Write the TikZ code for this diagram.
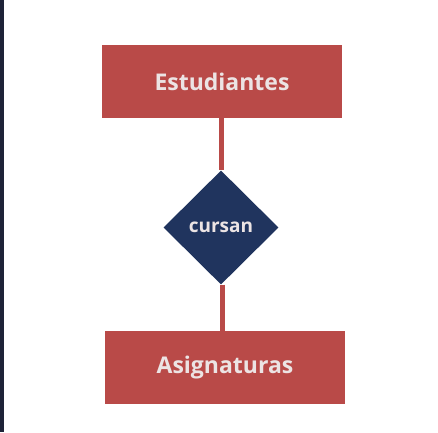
\documentclass[tikz,border=0pt]{standalone}
\usepackage{fontspec}
\setmainfont{Open Sans}
\usetikzlibrary{shapes.geometric,backgrounds}
\definecolor{boxred}{RGB}{185,74,72}
\definecolor{navy}{RGB}{32,52,94}
\definecolor{strip}{RGB}{30,35,56}
\definecolor{txt}{RGB}{236,228,228}
\tikzset{
  entity/.style={rectangle, fill=boxred, minimum width=240pt, minimum height=73pt, inner sep=0pt, text=txt, font=\fontsize{23}{26}\selectfont\bfseries},
  relation/.style={diamond, fill=navy, minimum width=115pt, minimum height=114pt, inner sep=0pt, aspect=1, text=txt, font=\fontsize{19}{22}\selectfont\bfseries},
  link/.style={draw=boxred, line width=5pt}
}
\begin{document}
\begin{tikzpicture}[x=1pt,y=-1pt]
\useasboundingbox (0,0) rectangle (438,432);
\node[entity] (est) at (222,81.5) {Estudiantes};
\node[relation] (rel) at (221,227.5) {cursan};
\node[entity] (asi) at (225,367.5) {Asignaturas};
\begin{scope}[on background layer]
\fill[white] (0,0) rectangle (438,432);
\fill[strip] (0,0) rectangle (4,432);
\draw[link] (est.south -| rel.north) -- (rel.north);
\draw[link] ([xshift=1.5pt]rel.south) -- ([xshift=1.5pt]rel.south |- asi.north);
\end{scope}
\end{tikzpicture}
\end{document}
